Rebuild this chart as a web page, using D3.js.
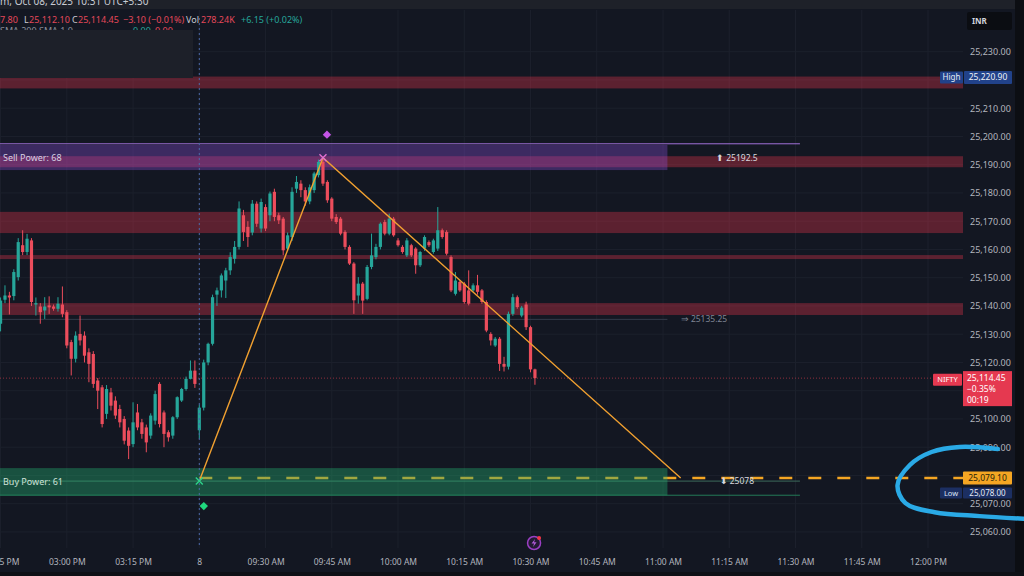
<!DOCTYPE html>
<html><head><meta charset="utf-8">
<script src="https://cdn.jsdelivr.net/npm/d3@7"></script>
<style>
html,body{margin:0;padding:0;background:#131722;overflow:hidden;}
svg{display:block;}
text{font-family:"Noto Sans",sans-serif;}
</style></head><body>
<svg id="c" width="1024" height="576"></svg>
<script>
// ---------- DATA ----------
// previous session 14:45-15:29 (index -45..-1), today 09:15-10:31 (index 0..76)
const candleOpen = [
25133.7,25142.2,25143.7,25143.5,25150.2,25161.5,25159.1,25163.2,25140.5,25139.8,
25138.4,25140.2,25139.8,25139.0,25140.5,25137.8,25127.2,25121.3,25130.1,25129.5,
25123.6,25123.0,25113.6,25111.2,25101.8,25109.4,25106.5,25103.5,25100.0,25095.9,
25091.1,25102.3,25098.8,25097.0,25094.1,25099.4,25112.4,25102.3,25095.3,25094.1,
25100.6,25106.5,25110.6,25114.2,25117.1,
25096,25104,25120,25126.6,25144,25145.5,25149,25152.6,25156.7,25160.9,
25172.1,25168,25166,25176.2,25167.4,25175.0,25172.1,25180.4,25172.1,25170.9,
25160.3,25164.4,25181.5,25183.3,25181.0,25177.0,25181.0,25186.3,25191.0,25183.9,
25178.0,25171.5,25170.9,25166.2,25160.9,25155.0,25143.7,25147.9,25142.5,25153.8,
25157.3,25160.9,25169.7,25165.6,25170.9,25163.2,25160.9,25157.9,25161.5,25160.3,
25154.4,25160.3,25162.6,25159.1,25160.3,25166.8,25166.2,25157.3,25144.3,25148.5,
25147.9,25145.5,25145.5,25147.3,25145.5,25141.4,25130.1,25126.0,25128.4,25119.5,
25118.5,25137.2,25143.1,25136.6,25140.5,25132.5,25117.55];
const candleHigh = [
25143,25147.3,25145,25153,25164,25166.8,25165.5,25164,25143,25141,
25143.1,25143.4,25140.5,25143.1,25146.9,25138.5,25128,25131,25136.6,25131,
25125,25124,25114.5,25112,25112,25111,25108,25105,25101,25097,
25105.9,25105.3,25100,25098,25102,25110,25113,25103,25096,25101,
25108,25111,25115,25120.7,25120.7,
25105,25121,25127,25144,25146.5,25151.5,25153.5,25159,25163,25177,
25174,25170,25177.5,25177,25178,25176,25180.5,25181.5,25173,25171.5,
25166,25182,25186,25184.5,25182,25183,25187.5,25191.8,25192.5,25184.5,
25178.5,25172.5,25171.5,25166.8,25161.5,25155.5,25150.2,25148.5,25154.5,25165.6,
25162,25169.6,25170.5,25172.7,25171.5,25164,25161.5,25164,25162,25160.8,
25159.5,25165,25163.2,25163.8,25175.0,25167.4,25166.8,25157.9,25152,25149,
25148.5,25152.6,25148,25151,25146,25142,25130.7,25129,25129,25122,
25138,25144.3,25143.7,25140,25141.5,25133,25117.8];
const candleLow = [
25131,25141,25137,25142,25149,25158,25158,25140,25136.6,25133.7,
25135.4,25137.2,25138.3,25138,25136,25125,25115.4,25120,25126,25120,
25113,25111,25103.5,25097,25100,25103,25100,25097,25091,25085.8,
25090,25096,25093,25088.2,25093,25098,25097,25090,25092,25093,
25100,25106,25110,25114,25111,
25093,25103,25119,25126,25140,25143,25142.8,25151,25155,25160,
25163,25160.9,25165,25168,25166,25166.5,25170,25170,25169,25158,
25159.5,25163,25180,25178.5,25175.5,25176,25180,25185.5,25182.5,25176.5,
25170,25169,25165,25160,25154.5,25137.2,25140.8,25137.2,25142,25153,
25156.5,25160,25165,25165,25164.5,25161,25158.5,25157.3,25157.3,25151.4,
25153.8,25159.5,25160.9,25158.5,25159.5,25163.8,25157.9,25144.9,25143.7,25145,
25140.8,25140.2,25145,25144,25140.8,25130.7,25126,25125.5,25117,25116.8,
25117.5,25136.5,25139,25136,25131.5,25116.5,25112.1];
const candleClose = [
25141.9,25143.7,25143.0,25152.0,25162.6,25159.1,25163.8,25141.4,25141.0,25137.8,
25139.8,25139.5,25139.0,25140.8,25137.2,25126.0,25121.3,25129.5,25127.8,25122.4,
25119.5,25112.4,25110.0,25098.2,25110.6,25104.7,25101.2,25098.8,25092.3,25090.5,
25098.8,25097.0,25094.7,25091.7,25101.2,25108.8,25098.2,25094.7,25093.5,25100.6,
25107.7,25110.6,25114.2,25117.1,25112.4,
25104,25120,25126.6,25143.1,25145.5,25150.8,25152.6,25157.3,25160.9,25174.5,
25166.2,25164.4,25176.2,25169.1,25176.8,25167.4,25179.8,25171.5,25170.3,25159.7,
25165.0,25180.4,25183.9,25181.0,25177.0,25182.0,25186.9,25191.0,25183.3,25177.4,
25170.9,25169.7,25165.6,25160.9,25155.0,25142.0,25147.9,25141.9,25153.8,25157.9,
25160.9,25169.1,25165.6,25170.9,25165.0,25161.5,25159.1,25163.2,25157.9,25154.4,
25159.1,25164.4,25161.5,25163.2,25166.8,25164.4,25158.5,25145.5,25149.0,25145.5,
25141.4,25140.8,25147.3,25145.0,25141.4,25131.3,25127.8,25128.4,25119.5,25118.5,
25137.2,25143.1,25139.6,25139.4,25132.5,25117.55,25114.45];
const firstIndex = -45;

const gridTicks = [25060,25070,25080,25090,25100,25110,25120,25130,25140,25150,25160,25170,25180,25190,25200,25210,25220,25230];
const yLabelTicks = [25060,25070,25090,25100,25120,25130,25140,25150,25160,25170,25180,25190,25200,25210,25230];
const xTickIdx = [-45,-30,-15,0,15,30,45,60,75,90,105,120,135,150,165];
const xTickLabels = ["02:45 PM","03:00 PM","03:15 PM","8","09:30 AM","09:45 AM","10:00 AM","10:15 AM","10:30 AM","10:45 AM","11:00 AM","11:15 AM","11:30 AM","11:45 AM","12:00 PM"];

// resistance (red) bands [low, high]
const bandLow  = [25217.0, 25189.1, 25165.8, 25156.6, 25136.8];
const bandHigh = [25221.2, 25193.0, 25173.3, 25158.0, 25141.0];
// power zones
const sellZone = [25188.1, 25197.0];
const buyZone  = [25073.0, 25082.6];
const zoneEndIdx = 106;
const levelEndIdx = 136;
const sellPower = 68, buyPower = 61;
const sellLevel = 25192.5, buyLevel = 25078, midLevel = 25135.25;
const sellLine = 25197.4, buyLine2 = 25073.0;
// zigzag
const zigIdx = [0, 28, 109];
const zigPrice = [25078, 25192.5, 25079.1];
const dashedLevel = 25079.10;
const dayHigh = 25220.90, dayLow = 25078.00, lastPrice = 25114.45;
// hand-drawn annotation (index, price)
const circIdx = [180.8,172.2,165.8,160.9,158.1,159.9,166.5,176.7,186.6];
const circPrice = [25089.4,25090.1,25088.3,25083.7,25076.6,25070.2,25067.0,25065.6,25064.7];

// ---------- SCALES ----------
const W = 1024, H = 576, PR = 963, PB = 548;
const svg = d3.select("#c");
const yS = d3.scaleLinear().domain([25060, 25230]).range([531.95, 51.7]);
const xS = d3.scaleLinear().domain([0, 165]).range([199.3, 928]);

svg.append("rect").attr("width", W).attr("height", H).attr("fill", "#131722");
svg.append("rect").attr("width", W).attr("height", 9).attr("fill", "#1e2129");

const defs = svg.append("defs");
defs.append("clipPath").attr("id","plot").append("rect").attr("x",0).attr("y",0).attr("width",PR).attr("height",PB);

// grid
const grid = svg.append("g");
grid.selectAll("line.v").data(xTickIdx).join("line")
  .attr("x1", d=>xS(d)).attr("x2", d=>xS(d)).attr("y1", 10).attr("y2", PB)
  .attr("stroke", "#1c202c").attr("stroke-width", 1);
grid.selectAll("line.h").data(gridTicks).join("line")
  .attr("x1", 0).attr("x2", PR).attr("y1", d=>yS(d)).attr("y2", d=>yS(d))
  .attr("stroke", "#1c202c").attr("stroke-width", 1);

const plot = svg.append("g").attr("clip-path","url(#plot)");

// red bands
plot.selectAll("rect.band").data(bandLow).join("rect")
  .attr("x", 0).attr("width", PR)
  .attr("y", (d,i)=>yS(bandHigh[i])).attr("height", (d,i)=>yS(bandLow[i])-yS(bandHigh[i]))
  .attr("fill", "rgb(242,54,80)").attr("opacity", 0.33);

// level lines
plot.append("line").attr("x1",0).attr("x2",xS(levelEndIdx)).attr("y1",yS(sellLine)).attr("y2",yS(sellLine))
  .attr("stroke","#a070d8").attr("stroke-width",1);
plot.append("line").attr("x1",0).attr("x2",xS(zoneEndIdx)).attr("y1",yS(midLevel)).attr("y2",yS(midLevel))
  .attr("stroke","#343b4a").attr("stroke-width",1);
plot.append("line").attr("x1",0).attr("x2",xS(levelEndIdx)).attr("y1",yS(buyLevel)).attr("y2",yS(buyLevel))
  .attr("stroke","#3d6a5c").attr("stroke-width",1);
plot.append("line").attr("x1",0).attr("x2",xS(levelEndIdx)).attr("y1",yS(buyLine2)).attr("y2",yS(buyLine2))
  .attr("stroke","#237a58").attr("stroke-width",1);
// last price line
plot.append("line").attr("x1",0).attr("x2",PR).attr("y1",yS(lastPrice)).attr("y2",yS(lastPrice))
  .attr("stroke","#c23a4a").attr("stroke-width",1).attr("stroke-dasharray","1,2").attr("opacity",0.7);

// sell zone (purple)
plot.append("rect").attr("x",0).attr("width",xS(zoneEndIdx))
  .attr("y",yS(sellZone[1])).attr("height",yS(sellZone[0])-yS(sellZone[1]))
  .attr("fill","rgb(140,80,220)").attr("opacity",0.34);

// dashed level
plot.append("line").attr("x1",xS(0)).attr("x2",PR).attr("y1",yS(dashedLevel)).attr("y2",yS(dashedLevel))
  .attr("stroke","#f5a623").attr("stroke-width",2.6).attr("stroke-dasharray","13,16");

// buy zone (green)
plot.append("rect").attr("x",0).attr("width",xS(zoneEndIdx))
  .attr("y",yS(buyZone[1])).attr("height",yS(buyZone[0])-yS(buyZone[1]))
  .attr("fill","rgb(34,171,110)").attr("opacity",0.4);

// crosshair vertical
svg.append("line").attr("x1",xS(0)).attr("x2",xS(0)).attr("y1",18).attr("y2",PB)
  .attr("stroke","#4a6aa8").attr("stroke-width",1).attr("stroke-dasharray","2,3");

// candles
const idx = d3.range(firstIndex, firstIndex + candleOpen.length);
const cg = plot.append("g");
const up = i => candleClose[i] >= candleOpen[i];
const colUp = "#26a69a", colDn = "#ec4d5c";
cg.selectAll("line.wick").data(idx).join("line")
  .attr("x1",(d)=>xS(d)).attr("x2",(d)=>xS(d))
  .attr("y1",(d,i)=>yS(candleHigh[i])).attr("y2",(d,i)=>yS(candleLow[i]))
  .attr("stroke",(d,i)=>up(i)?colUp:colDn).attr("stroke-width",1);
cg.selectAll("rect.body").data(idx).join("rect")
  .attr("x",(d)=>xS(d)-1.6).attr("width",3.2)
  .attr("y",(d,i)=>yS(Math.max(candleOpen[i],candleClose[i])))
  .attr("height",(d,i)=>Math.max(1,Math.abs(yS(candleOpen[i])-yS(candleClose[i]))))
  .attr("fill",(d,i)=>up(i)?colUp:colDn);

// zigzag
plot.append("path").datum(zigIdx.map((d,i)=>[d,zigPrice[i]]))
  .attr("d", d3.line().x(d=>xS(d[0])).y(d=>yS(d[1])))
  .attr("fill","none").attr("stroke","#f0a030").attr("stroke-width",1.4);

// markers
function cross(g, cx, cy, col){
  g.append("path").attr("d",`M${cx-3.5},${cy-3.5}L${cx+3.5},${cy+3.5}M${cx-3.5},${cy+3.5}L${cx+3.5},${cy-3.5}`)
   .attr("stroke",col).attr("stroke-width",1.4);
}
cross(svg, xS(28), yS(sellLevel), "#e070d0");
cross(svg, xS(0), yS(dayLow), "#2ed18a");
const dia = (cx,cy,r,col)=>svg.append("path").attr("d",`M${cx},${cy-r}L${cx+r},${cy}L${cx},${cy+r}L${cx-r},${cy}Z`).attr("fill",col);
dia(xS(28)+4, yS(sellLevel)-23, 4.2, "#c455e6");
dia(xS(0)+4.5, yS(dayLow)+25, 4.2, "#1fd87e");

// in-chart labels
const lab = svg.append("g").attr("font-size", 9);
lab.append("text").attr("x",3).attr("y",yS(sellLevel)+3.5).attr("fill","#d6d0e4").text(`Sell Power: ${sellPower}`);
lab.append("text").attr("x",3).attr("y",yS(buyLevel)+3.5).attr("fill","#cfe2da").text(`Buy Power: ${buyPower}`);
lab.append("text").attr("x",xS(117)).attr("y",yS(sellLevel)+3).attr("fill","#d8d8de").attr("font-size",8.5).text(`\u2B06 ${sellLevel}`);
lab.append("text").attr("x",xS(117.8)).attr("y",yS(buyLevel)+3).attr("fill","#d8d8de").attr("font-size",8.5).text(`\u2B07 ${buyLevel}`);
lab.append("text").attr("x",xS(109)).attr("y",yS(midLevel)+3).attr("fill","#7e8494").attr("font-size",8.5).text(`\u21D2 ${midLevel}`);

// lightning icon
const ic = svg.append("g").attr("transform",`translate(${xS(75.8)},543)`);
ic.append("circle").attr("r",6.5).attr("fill","#231a33").attr("stroke","#9b3fc4").attr("stroke-width",1.5);
ic.append("path").attr("d","M1,-4L-2.5,0.5L0,0.5L-1,4L2.5,-0.8L0,-0.8Z").attr("fill","#b05ad8");
ic.append("circle").attr("cx",5).attr("cy",-5).attr("r",2).attr("fill","#f23645");

// ---------- AXES ----------
const yAxis = d3.axisRight(yS).tickValues(yLabelTicks).tickFormat(d3.format(",.2f")).tickSize(0).tickPadding(6);
const ya = svg.append("g").attr("transform",`translate(${PR+1},0)`).call(yAxis);
ya.select(".domain").remove();
ya.selectAll("text").attr("fill","#b2b5be").attr("font-size",9).attr("font-family","Noto Sans");

const xAxis = d3.axisBottom(xS).tickValues(xTickIdx).tickFormat((d,i)=>xTickLabels[i]).tickSize(0).tickPadding(11);
const xa = svg.append("g").attr("transform",`translate(0,${PB})`).call(xAxis);
xa.select(".domain").remove();
xa.selectAll("text").attr("fill","#b2b5be").attr("font-size",8.5).attr("font-family","Noto Sans");

// right-edge strip
svg.append("rect").attr("x",1015).attr("y",0).attr("width",9).attr("height",H).attr("fill","#0c0e13");
svg.append("rect").attr("x",0).attr("y",572).attr("width",W).attr("height",4).attr("fill","#0e1016");

// axis badges
function badge(x, yc, w, h, bg, txt, col, fs){
  svg.append("rect").attr("x",x).attr("y",yc-h/2).attr("width",w).attr("height",h).attr("fill",bg).attr("rx",1);
  svg.append("text").attr("x",x+w/2).attr("y",yc).attr("dy","0.35em").attr("text-anchor","middle")
    .attr("fill",col).attr("font-size",fs||8.5).text(txt);
}
const fmt = d3.format(",.2f");
badge(940, yS(dayHigh), 23, 12, "#21428a", "High", "#e8ecf6", 8);
badge(964, yS(dayHigh), 48, 13, "#21428a", fmt(dayHigh), "#eef1f8", 8.5);
badge(933, yS(lastPrice)+1.5, 29, 12, "#e53950", "NIFTY", "#ffffff", 7.5);
svg.append("rect").attr("x",963).attr("y",yS(lastPrice)-7).attr("width",49).attr("height",35).attr("fill","#e53950");
svg.append("text").attr("x",967).attr("y",yS(lastPrice)+3).attr("fill","#fff").attr("font-size",8.5).text(fmt(lastPrice));
svg.append("text").attr("x",967).attr("y",yS(lastPrice)+14).attr("fill","#fff").attr("font-size",8.5).text("\u22120.35%");
svg.append("text").attr("x",967).attr("y",yS(lastPrice)+25).attr("fill","#fff").attr("font-size",8.5).text("00:19");
badge(963, yS(dashedLevel), 49, 13, "#f5a623", fmt(dashedLevel), "#2a1e08", 8.5);
badge(940, yS(dayLow)+11.8, 22, 11, "#1c2f62", "Low", "#dfe6f5", 7.5);
badge(963, yS(dayLow)+11.8, 49, 11, "#1c2f62", fmt(dayLow), "#e6ebf6", 8);

// INR box
svg.append("rect").attr("x",967).attr("y",12).attr("width",45).attr("height",18).attr("fill","#0b0d12").attr("rx",2);
svg.append("text").attr("x",972).attr("y",24).attr("fill","#d1d4dc").attr("font-size",8).attr("font-weight","bold").text("INR");

// annotation curve
svg.append("path").datum(circIdx.map((d,i)=>[d,circPrice[i]]))
  .attr("d", d3.line().x(d=>xS(d[0])).y(d=>yS(d[1])).curve(d3.curveCatmullRom))
  .attr("fill","none").attr("stroke","#2aaae6").attr("stroke-width",4.5).attr("stroke-linecap","round");

// ---------- HEADER ----------
svg.append("text").attr("x",0).attr("y",5).attr("fill","#c8cbd3").attr("font-size",10).text("m, Oct 08, 2025 10:31 UTC+5:30");
const hdr = [
  {x:0,   t:"7.80",            c:"#e5485a"},
  {x:24,  t:"L",               c:"#c8cbd3"},
  {x:29,  t:"25,112.10",       c:"#e5485a"},
  {x:72,  t:"C",               c:"#c8cbd3"},
  {x:78,  t:"25,114.45",       c:"#e5485a"},
  {x:123, t:"\u22123.10 (\u22120.01%)", c:"#e5485a"},
  {x:186, t:"Vol",             c:"#c8cbd3"},
  {x:201, t:"278.24K",         c:"#e5485a"},
  {x:241, t:"+6.15 (+0.02%)",  c:"#26a69a"}
];
svg.append("g").selectAll("text").data(hdr).join("text")
  .attr("x",d=>d.x).attr("y",23).attr("fill",d=>d.c).attr("font-size",9).text(d=>d.t);
svg.append("text").attr("x",0).attr("y",34).attr("fill","#8a8e99").attr("font-size",9).text("SMA 200  SMA  1  0");
svg.append("text").attr("x",133).attr("y",34).attr("fill","#26a69a").attr("font-size",9).text("0.00");
svg.append("text").attr("x",155).attr("y",34).attr("fill","#e5485a").attr("font-size",9).text("0.00");
// obscuring box
svg.append("rect").attr("x",0).attr("y",30).attr("width",193).attr("height",48).attr("fill","#1d2029");
</script>
</body></html>
